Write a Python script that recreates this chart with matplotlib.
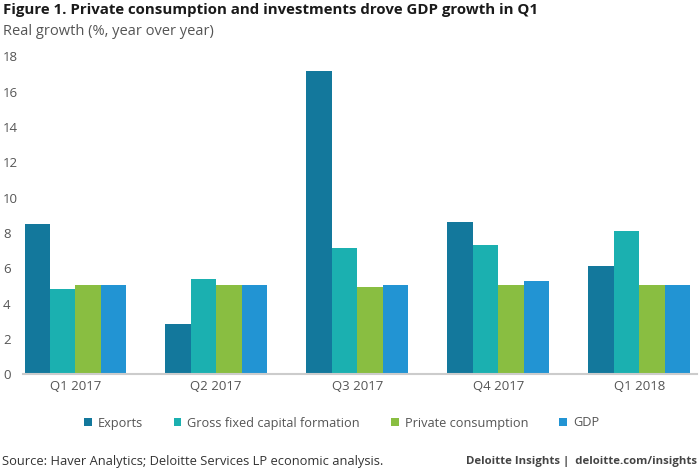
import matplotlib
matplotlib.use("Agg")
import matplotlib.pyplot as plt
from matplotlib.patches import Patch
import numpy as np

plt.rcParams['font.family'] = ['Open Sans', 'DejaVu Sans']

# data
quarters = ['Q1 2017', 'Q2 2017', 'Q3 2017', 'Q4 2017', 'Q1 2018']
exports = [8.5, 2.85, 17.2, 8.65, 6.15]
gfcf = [4.85, 5.4, 7.15, 7.3, 8.1]
private_cons = [5.05, 5.05, 4.95, 5.05, 5.05]
gdp = [5.05, 5.05, 5.05, 5.3, 5.05]
series_names = ['Exports', 'Gross fixed capital formation', 'Private consumption', 'GDP']
yticks = [0, 2, 4, 6, 8, 10, 12, 14, 16, 18]

colors = ['#13789c', '#1bb0b0', '#89be41', '#2294d3']
grey = '#555555'

fig = plt.figure(figsize=(7, 4.7), dpi=100, facecolor='white')
ax = fig.add_axes([0.033, 0.2036, 0.9627, 0.6764])

x = np.arange(len(quarters))
w = 0.18
all_series = [exports, gfcf, private_cons, gdp]
for i, vals in enumerate(all_series):
    ax.bar(x + (i - 1.5) * w, vals, width=w, color=colors[i], linewidth=0, zorder=2)

ax.set_xlim(-0.37, 4.41)
ax.set_ylim(0, 18)
ax.set_yticks(yticks)
ax.set_xticks(x)
ax.set_xticklabels(quarters)

for s in ['top', 'right', 'left']:
    ax.spines[s].set_visible(False)
ax.spines['bottom'].set_color('#cccccc')
ax.spines['bottom'].set_linewidth(1.5)
ax.tick_params(axis='both', length=0, labelsize=9.5, labelcolor=grey)
ax.tick_params(axis='y', pad=14.4)
ax.tick_params(axis='x', pad=4)
for lab in ax.get_yticklabels():
    lab.set_horizontalalignment('left')

fig.text(0.004, 0.979, 'Figure 1. Private consumption and investments drove GDP growth in Q1',
         fontsize=10.8, fontweight='bold', color='#1a1a1a', va='center', ha='left')
fig.text(0.004, 0.932, 'Real growth (%, year over year)', fontsize=10.5, color=grey,
         va='center', ha='left')

handles = [Patch(facecolor=c, edgecolor='none') for c in colors]
fig.legend(handles, series_names, loc='center', bbox_to_anchor=(0.488, 0.1), ncol=4,
           frameon=False, fontsize=9.2, handlelength=0.57, handleheight=0.57,
           handletextpad=0.47, columnspacing=2.45, labelcolor=grey)

fig.text(0.003, 0.019, 'Source: Haver Analytics; Deloitte Services LP economic analysis.',
         fontsize=9.25, color='#333333', va='center', ha='left')
fig.text(0.996, 0.019, 'Deloitte Insights |  deloitte.com/insights', fontsize=8.2,
         fontweight='bold', color='#444444', va='center', ha='right')

fig.savefig('out.png', dpi=100, facecolor='white')
